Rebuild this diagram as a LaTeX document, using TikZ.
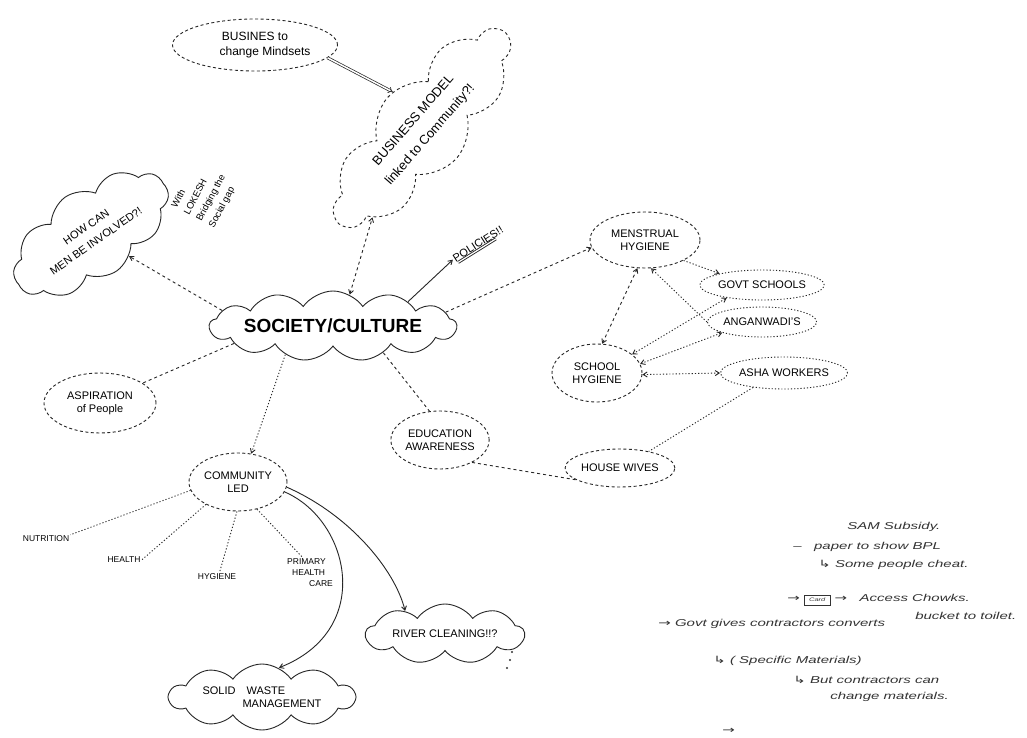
\documentclass[tikz,border=0pt]{standalone}
\usepackage{fontspec}
\setmainfont{Liberation Sans}
\newfontfamily\symfont{DejaVu Sans}
\usetikzlibrary{shapes.symbols,shapes.geometric,arrows.meta,calc}
\begin{document}
\begin{tikzpicture}[x=1pt,y=-1pt,
  ink/.style={draw=black!85, line width=0.9pt},
  dcloud/.style={cloud, cloud puffs=10, cloud puff arc=110, cloud ignores aspect, ink, dash pattern=on 3pt off 3pt, align=center, inner sep=0pt},
  scloud/.style={cloud, cloud puffs=10, cloud puff arc=110, cloud ignores aspect, ink, align=center, inner sep=0pt},
  dell/.style={ellipse, ink, dash pattern=on 3pt off 2.5pt, align=center, inner sep=0pt},
  tell/.style={ellipse, ink, dash pattern=on 1.2pt off 2pt, align=center, inner sep=0pt},
  lab/.style={font=\fontsize{11}{13}\selectfont, align=center},
  small/.style={font=\fontsize{8.5}{11}\selectfont, align=left, inner sep=1pt},
  note/.style={font=\fontsize{10}{12}\selectfont\itshape, text=black!80, anchor=west, inner sep=0pt, xscale=1.5},
  dcon/.style={ink, dash pattern=on 3pt off 3pt},
  tcon/.style={ink, dash pattern=on 1.2pt off 2pt},
  tip/.style={-{Straight Barb[length=4pt,width=5pt]}},
  tips/.style={{Straight Barb[length=4pt,width=5pt]}-{Straight Barb[length=4pt,width=5pt]}},
]
\fill[white] (0,0) rectangle (1027,738);
\useasboundingbox (0,0) rectangle (1027,738);

% nodes
\node[dell, minimum width=165pt, minimum height=52pt, lab, font=\fontsize{12}{15}\selectfont] (bus) at (255,45) {BUSINES to\\\hspace{20pt}change Mindsets};
\node[dcloud, rotate=49, minimum width=250pt, minimum height=92pt, lab, font=\fontsize{13}{22}\selectfont] (bm) at (422,128) {BUSINESS MODEL\\linked to Community?!};
\node[scloud, rotate=35, minimum width=178pt, minimum height=90pt, lab, font=\fontsize{11}{17}\selectfont] (men) at (91,234) {HOW CAN\\MEN BE INVOLVED?!};
\node[small, rotate=62, align=left, font=\fontsize{9.5}{14}\selectfont] (lok) at (205,195) {With\\LOKESH\\Bridging the\\Social gap};
\node[scloud, cloud puffs=13, minimum width=232pt, minimum height=70pt, font=\fontsize{19}{22}\selectfont\bfseries] (soc) at (333,326) {SOCIETY/CULTURE};
\node[lab, rotate=32, inner sep=1pt] (pol) at (478,244) {POLICIES!!};
\node[dell, minimum width=110pt, minimum height=56pt, lab] (mh) at (645,240) {MENSTRUAL\\HYGIENE};
\node[tell, minimum width=120pt, minimum height=30pt, lab] (gs) at (762,285) {GOVT SCHOOLS};
\node[tell, minimum width=98pt, minimum height=30pt, lab] (ang) at (762,322) {ANGANWADI'S};
\node[tell, minimum width=122pt, minimum height=32pt, lab] (asha) at (784,373) {ASHA WORKERS};
\node[dell, minimum width=90pt, minimum height=58pt, lab] (sh) at (597,373) {SCHOOL\\HYGIENE};
\node[dell, minimum width=96pt, minimum height=58pt, lab] (edu) at (440,440) {EDUCATION\\AWARENESS};
\node[dell, minimum width=108pt, minimum height=38pt, lab] (hw) at (620,468) {HOUSE WIVES};
\node[dell, minimum width=112pt, minimum height=60pt, lab] (asp) at (100,403) {ASPIRATION\\of People};
\node[dell, minimum width=98pt, minimum height=58pt, lab] (com) at (238,482) {COMMUNITY\\LED};
\node[small] (nut) at (46,539) {NUTRITION};
\node[small] (hea) at (124,560) {HEALTH};
\node[small] (hyg) at (217,577) {HYGIENE};
\node[small] (phc) at (310,573) {PRIMARY\\\hspace{5pt}HEALTH\\\hspace{22pt}CARE};
\node[scloud, minimum width=185pt, minimum height=66pt, lab, align=left] (swm) at (262,697) {SOLID\quad WASTE\\\hspace{40pt}MANAGEMENT};
\node[scloud, cloud puffs=9, minimum width=158pt, minimum height=60pt, lab] (riv) at (445,634) {RIVER CLEANING!!?};

% policies underline
\draw[ink, double, double distance=1.2pt] ($(pol.south west)!0.05!(pol.south east)$) -- ($(pol.south west)!0.8!(pol.south east)$);

% connectors
\draw[ink, line width=0.7pt, double, double distance=1.5pt, -{Implies}] (bus.-10) -- (bm.80);
\draw[dcon, tip] (soc.172) -- (men);
\draw[dcon, tips] (soc.62) -- (bm.192);
\draw[ink, tip] (soc.18) -- (pol.west);
\draw[dcon, tip] (soc.7) -- (mh.188);
\draw[tcon, tip] (mh.-28) -- (gs.165);
\draw[dcon, tips] (mh.255) -- (sh.80);
\draw[tcon, tip] (ang.180) -- (mh.-78);
\draw[tcon, tips] (sh.28) -- (gs.200);
\draw[tcon, tips] (sh.12) -- (ang.195);
\draw[tcon, tips] (sh.-2) -- (asha.180);
\draw[tcon] (asha.205) -- (hw.30);
\draw[dcon] (soc.-28) -- (edu.110);
\draw[dcon] (edu.-35) -- (hw.195);
\draw[dcon] (soc.190) -- (asp.25);
\draw[tcon, tip] (soc.211) -- (com.65);
\draw[tcon] (com.190) -- (nut.north east);
\draw[tcon] (com.215) -- (hea.east);
\draw[tcon] (com.268) -- (hyg.60);
\draw[tcon] (com.-55) -- (phc.115);
\draw[ink, tip] (com.-12) .. controls (350,520) and (375,630) .. (swm.60);
\draw[ink, tip] (com.-6) .. controls (350,515) and (395,570) .. (riv.150);

% small dots by river cloud
\fill[black!80] (512,652) circle (1.1pt) (510,660) circle (1.1pt) (507,668) circle (1.1pt);

% notes
\node[note] (n1) at (847,527) {SAM Subsidy.};
\node[note] (n2) at (793,547) {– \; paper to show BPL};
\node[note] (n3) at (818,565) {{\symfont ↳} Some people cheat.};
\node[note] (n4) at (787,600) {{\symfont →} \fbox{\tiny Card} {\symfont →} \; Access Chowks.};
\node[note] (n5) at (658,624) {{\symfont →} Govt gives contractors converts};
\node[note] (n6) at (915,616) {bucket to toilet.};
\node[note] (n7) at (713,661) {{\symfont ↳} ( Specific Materials)};
\node[note] (n8) at (793,680) {{\symfont ↳} But contractors can};
\node[note] (n9) at (830,697) {change materials.};
\node[note] (n10) at (722,731) {{\symfont →}};
\end{tikzpicture}
\end{document}
